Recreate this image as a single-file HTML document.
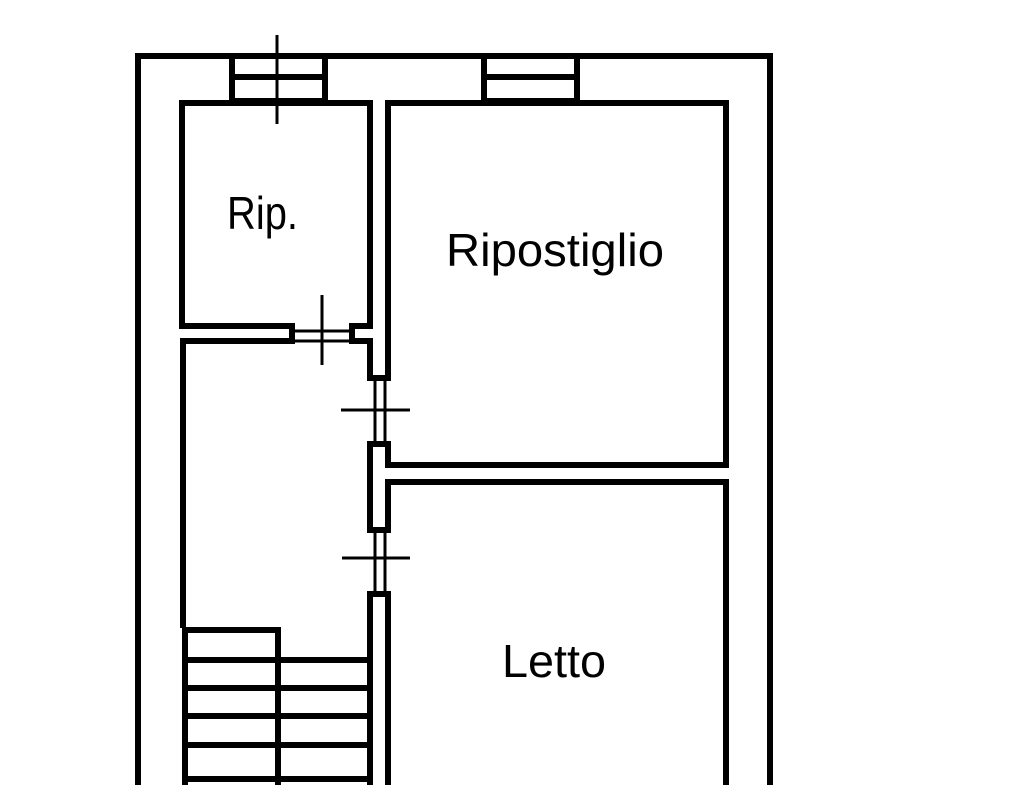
<!DOCTYPE html>
<html><head><meta charset="utf-8"><style>
html,body{margin:0;padding:0;background:#fff;}
svg{display:block}
text{font-family:"Liberation Sans",sans-serif;fill:#000;}
</style></head><body>
<svg width="1024" height="785" viewBox="0 0 1024 785" xmlns="http://www.w3.org/2000/svg">
<g fill="none" stroke="#000" stroke-width="6" stroke-linecap="square">
<polyline points="138,785 138,56 770,56 770,785"/>
<rect x="232" y="56" width="93" height="45" />
<line x1="232" y1="77" x2="325" y2="77"/>
<rect x="484" y="56" width="93" height="45" />
<line x1="484" y1="77" x2="577" y2="77"/>
<polyline points="292,326 182,326 182,103 370,103 370,326 352,326"/>
<polyline points="292,341 183,341 183,625"/>
<polyline points="352,341 370,341 370,378"/>
<line x1="292" y1="326" x2="292" y2="341"/>
<line x1="352" y1="326" x2="352" y2="341"/>
<line x1="370" y1="378" x2="388" y2="378"/>
<line x1="370" y1="444" x2="388" y2="444"/>
<polyline points="370,444 370,530 388,530"/>
<line x1="370" y1="594" x2="388" y2="594"/>
<line x1="370" y1="594" x2="370" y2="785"/>
<polyline points="388,378 388,103 726,103 726,465 388,465 388,444"/>
<polyline points="388,785 388,594"/>
<polyline points="388,530 388,482 726,482 726,785"/>
<polyline points="185,785 185,630 278,630 278,785"/>
<line x1="185" y1="660" x2="369" y2="660"/>
<line x1="185" y1="688" x2="369" y2="688"/>
<line x1="185" y1="716" x2="369" y2="716"/>
<line x1="185" y1="745" x2="369" y2="745"/>
<line x1="185" y1="779" x2="369" y2="779"/>
</g>
<g stroke="#000" stroke-width="3">
<line x1="292" y1="331" x2="352" y2="331"/>
<line x1="292" y1="341" x2="352" y2="341"/>
<line x1="375" y1="378" x2="375" y2="444"/>
<line x1="385" y1="378" x2="385" y2="444"/>
<line x1="375" y1="530" x2="375" y2="594"/>
<line x1="385" y1="530" x2="385" y2="594"/>
<line x1="277" y1="35" x2="277" y2="124"/>
<line x1="322" y1="295" x2="322" y2="365"/>
<line x1="341" y1="410" x2="410" y2="410"/>
<line x1="342" y1="558" x2="410" y2="558"/>
</g>
<text x="227" y="229" font-size="46" textLength="71" lengthAdjust="spacingAndGlyphs">Rip.</text>
<text x="446" y="266" font-size="46" textLength="218" lengthAdjust="spacingAndGlyphs">Ripostiglio</text>
<text x="502" y="677" font-size="46" textLength="104" lengthAdjust="spacingAndGlyphs">Letto</text>
</svg>
</body></html>
